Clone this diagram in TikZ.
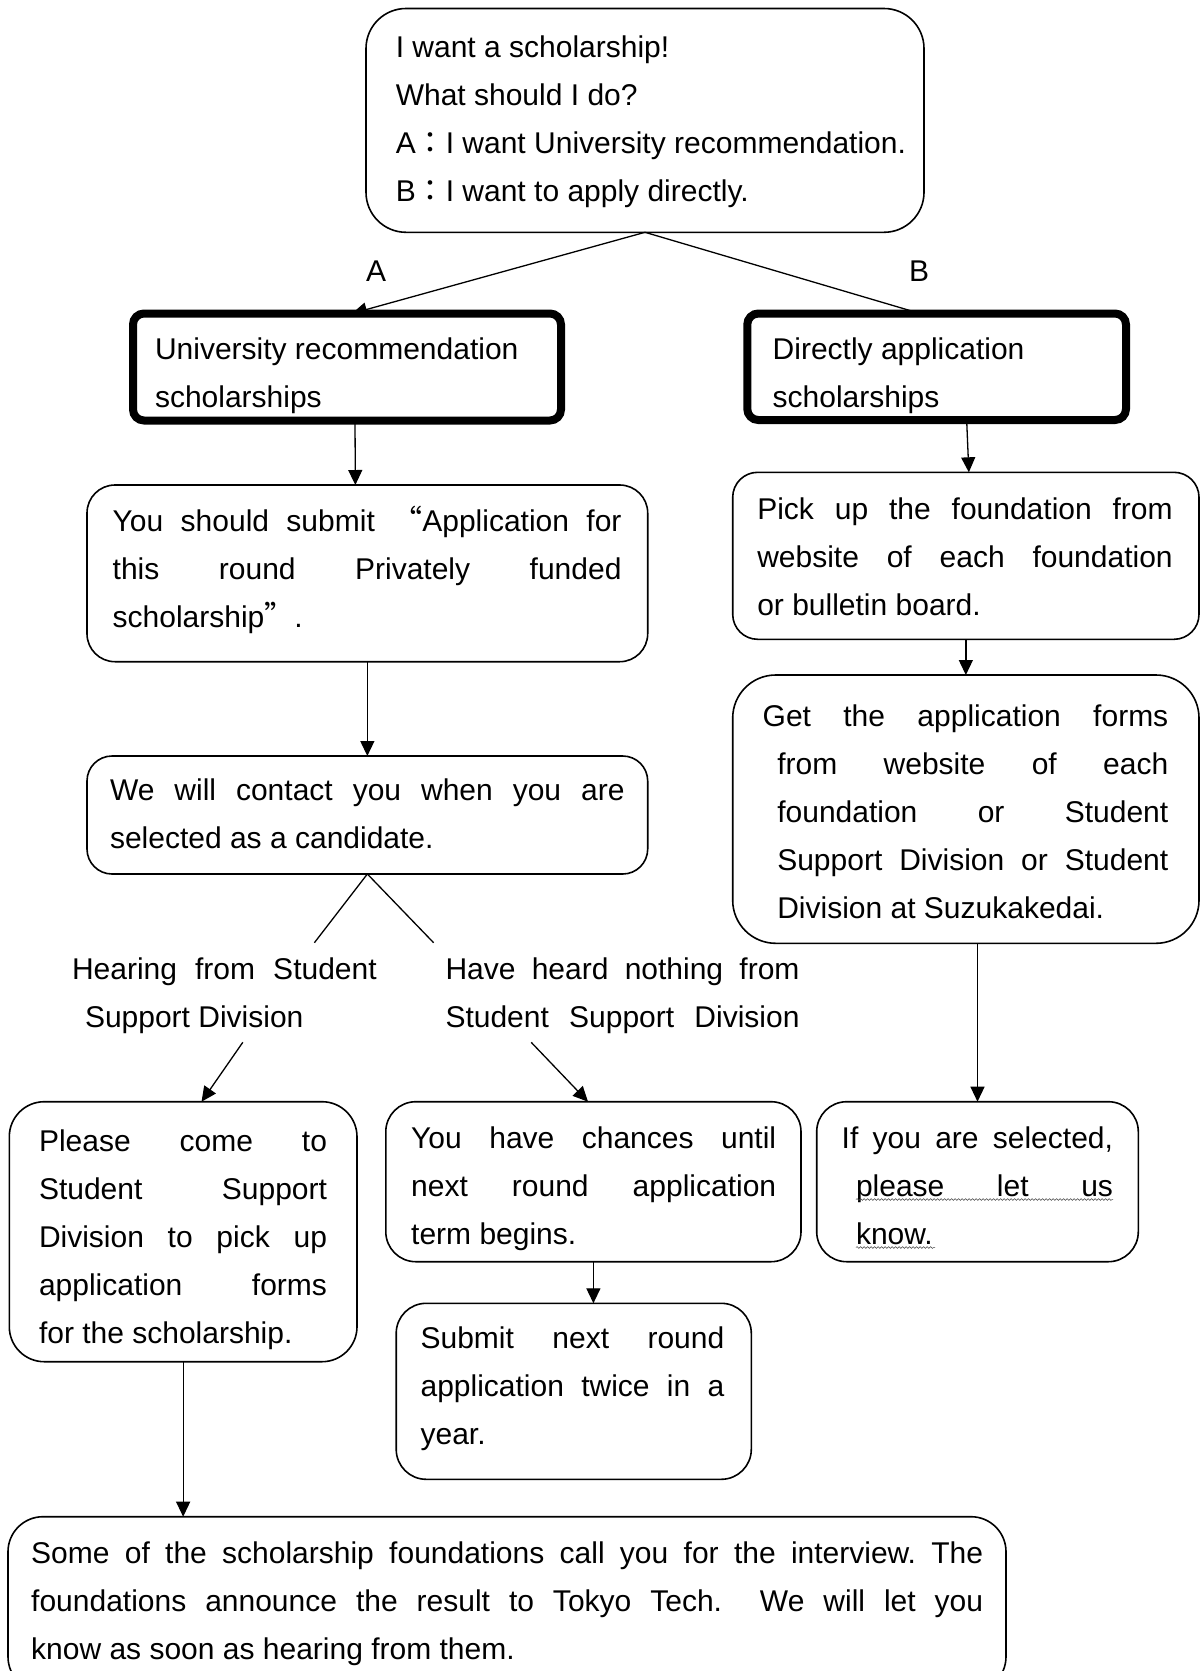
\documentclass[tikz,border=0pt]{standalone}
\usepackage{fontspec}
\setmainfont{Liberation Sans}
\newfontfamily\jpfont[RawFeature=+fwid]{Noto Sans CJK JP}
\usetikzlibrary{arrows.meta,decorations.pathmorphing}
\newcommand\jl[2]{\makebox[#1][s]{#2}}
\newcommand\fw[1]{{\jpfont #1}}
\begin{document}
\begin{tikzpicture}[x=1pt,y=-1pt,
  font=\fontsize{30pt}{48pt}\selectfont\frenchspacing,
  box/.style={draw, line width=1.6pt, rounded corners=#1, inner sep=0pt, outer sep=0pt, anchor=north west},
  box/.default=30pt,
  thickbox/.style={draw, line width=8pt, rounded corners=11pt, inner sep=0pt, outer sep=0pt, anchor=north west},
  txt/.style={anchor=base west, inner sep=0pt, outer sep=0pt},
  conn/.style={line width=1.3pt},
  arr/.style={conn, -{Triangle[length=15pt,width=14pt]}},
  wavy/.style={decorate, decoration={snake, amplitude=0.9pt, segment length=3.5pt}, line width=0.5pt, black!75}]
\path[use as bounding box] (0,0) rectangle (1201,1671);
\clip (0,0) rectangle (1201,1671);
\fill[white] (0,0) rectangle (1201,1671);

% boxes
\node[box=40pt, minimum width=558pt, minimum height=223.8pt] (q) at (366,8.5) {};
\node[thickbox, minimum width=428pt, minimum height=107pt] (ua) at (133,313.5) {};
\node[thickbox, minimum width=378.7pt, minimum height=106.5pt] (da) at (747.3,313.5) {};
\node[box=28pt, minimum width=560.7pt, minimum height=176.7pt] (sub) at (87,485) {};
\node[box=25pt, minimum width=560.7pt, minimum height=118pt] (con) at (87,756) {};
\node[box=35pt, minimum width=347.7pt, minimum height=260pt] (come) at (9.3,1101.7) {};
\node[box=30pt, minimum width=415.2pt, minimum height=160pt] (chance) at (385.8,1101.7) {};
\node[box=30pt, minimum width=355.1pt, minimum height=176pt] (next) at (396.2,1303.3) {};
\node[box=35pt, minimum width=998pt, minimum height=175pt] (some) at (8,1516.7) {};
\node[box=25pt, minimum width=466.3pt, minimum height=167pt] (pick) at (732.7,472.3) {};
\node[box=43pt, minimum width=466.3pt, minimum height=268.3pt] (get) at (732.7,675) {};
\node[box=30pt, minimum width=321.6pt, minimum height=160pt] (sel) at (816.7,1101.7) {};

% texts
\node[txt] (tq) at (395.8,57.5) {\parbox[t]{540pt}{I want a scholarship!\\What should I do?\\A\fw{：}I want University recommendation.\\B\fw{：}I want to apply directly.}};
\node[txt] (la) at (366,281.7) {A};
\node[txt] (lb) at (909,281.7) {B};
\node[txt] (tua) at (155,359) {\parbox[t]{400pt}{University recommendation\\scholarships}};
\node[txt] (tda) at (772.7,359) {\parbox[t]{340pt}{Directly application\\scholarships}};
\node[txt] (tsub) at (112.7,531.7) {\parbox[t]{508.8pt}{\jl{\linewidth}{You should submit \fw{“}Application for}\\\jl{\linewidth}{this round Privately funded}\\scholarship\fw{”}.}};
\node[txt] (tcon) at (110,800) {\parbox[t]{514.6pt}{\jl{\linewidth}{We will contact you when you are}\\selected as a candidate.}};
\node[txt] (thear) at (72,979.3) {\parbox[t]{304.7pt}{\jl{\linewidth}{Hearing from Student}\\\hspace*{13pt}Support Division}};
\node[txt] (tnone) at (445.5,979.3) {\parbox[t]{354pt}{\jl{\linewidth}{Have heard nothing from}\\\jl{\linewidth}{Student Support Division}}};
\node[txt] (tcome) at (39,1151.7) {\parbox[t]{288pt}{\jl{\linewidth}{Please come to}\\\jl{\linewidth}{Student Support}\\\jl{\linewidth}{Division to pick up}\\\jl{\linewidth}{application forms}\\for the scholarship.}};
\node[txt] (tchance) at (411.2,1148.3) {\parbox[t]{365pt}{\jl{\linewidth}{You have chances until}\\\jl{\linewidth}{next round application}\\term begins.}};
\node[txt] (tnext) at (420.6,1348.3) {\parbox[t]{303.7pt}{\jl{\linewidth}{Submit next round}\\\jl{\linewidth}{application twice in a}\\year.}};
\node[txt] (tsome) at (31.2,1563) {\parbox[t]{952pt}{\jl{\linewidth}{Some of the scholarship foundations call you for the interview. The}\\\jl{\linewidth}{foundations announce the result to Tokyo Tech.\space\space We will let you}\\know as soon as hearing from them.}};
\node[txt] (tpick) at (757.3,519.3) {\parbox[t]{415.4pt}{\jl{\linewidth}{Pick up the foundation from}\\\jl{\linewidth}{website of each foundation}\\or bulletin board.}};
\node[txt] (tget) at (762.7,726.7) {\parbox[t]{405.6pt}{\jl{\linewidth}{Get the application forms}\\\hspace*{14.6pt}\jl{391pt}{from website of each}\\\hspace*{14.6pt}\jl{391pt}{foundation or Student}\\\hspace*{14.6pt}\jl{391pt}{Support Division or Student}\\\hspace*{14.6pt}Division at Suzukakedai.}};
\node[txt] (tsel) at (841.7,1148.3) {\parbox[t]{271.3pt}{\jl{\linewidth}{If you are selected,}\\\hspace*{14.3pt}\jl{257pt}{please let us}\\\hspace*{14.3pt}know.}};
\draw[wavy] (856,1199.5) -- (1113,1199.5);
\draw[wavy] (856,1247.5) -- (935,1247.5);

% connectors
\coordinate (hl) at (314.4,942.7);
\coordinate (hr) at (433.6,942.7);
\coordinate (ha) at (242.8,1042.3);
\coordinate (na) at (531.2,1042.3);
\draw[arr] (q.south) -- ([xshift=5pt]ua.north);
\draw[conn] (q.south) -- ([xshift=-16.6pt]da.north);
\draw[arr] ([xshift=8pt]ua.south) -- ([xshift=-12pt]sub.north);
\draw[arr] (sub.south) -- (con.north);
\draw[conn] (con.south) -- (hl);
\draw[conn] (con.south) -- (hr);
\draw[arr] (ha) -- ([xshift=18.4pt]come.north);
\draw[arr] (na) -- ([xshift=-5.4pt]chance.north);
\draw[arr] (chance.south) -- (chance.south |- next.north);
\draw[arr] (come.south) -- (come.south |- some.north);
\draw[arr] ([xshift=30pt]da.south) -- ([xshift=3pt]pick.north);
\draw[arr] (pick.south) -- (get.north);
\draw[arr] (sel.north |- get.south) -- (sel.north);
\end{tikzpicture}
\end{document}
